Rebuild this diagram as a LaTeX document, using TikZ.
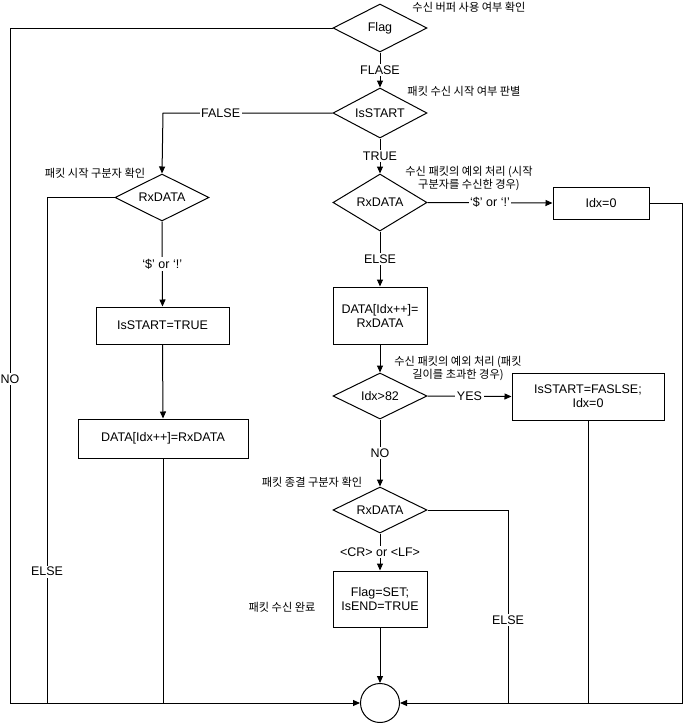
\documentclass[tikz,border=0pt]{standalone}
\usepackage{fontspec}
\setmainfont{Liberation Sans}
\newfontfamily\kr{Noto Sans CJK KR}
\usetikzlibrary{shapes.geometric,arrows.meta}
\begin{document}
\begin{tikzpicture}[x=1pt,y=-1pt,line width=1pt,
  every node/.style={font=\fontsize{12.5}{14}\selectfont},
  dia/.style={draw,diamond,aspect=2,inner sep=0pt,minimum width=94pt,minimum height=#1},
  dia/.default=48pt,
  box/.style={draw,rectangle,inner sep=0pt,align=center},
  lbl/.style={fill=white,inner sep=1.5pt},
  note/.style={font=\kr\fontsize{11.2}{13}\selectfont,inner sep=0pt,align=center},
  arr/.style={-{Triangle[length=7pt,width=6pt]}}]
\useasboundingbox (0,0) rectangle (683,723);
% nodes
\node[dia=48pt] (flag) at (380,28) {Flag};
\node[dia=50pt] (isstart) at (380,113) {IsSTART};
\node[dia=57pt] (rxc) at (380,202.5) {RxDATA};
\node[dia=47pt] (rxl) at (162,197.5) {RxDATA};
\node[box,minimum width=96pt,minimum height=32pt] (idx0) at (601,203) {Idx=0};
\node[box,minimum width=94pt,minimum height=57pt] (data1) at (380,315.5) {DATA[Idx++]=\\RxDATA};
\node[box,minimum width=133pt,minimum height=37pt] (istrue) at (162.5,325.5) {IsSTART=TRUE};
\node[box,minimum width=170pt,minimum height=39pt] (data2) at (163,438.5) {DATA[Idx++]=RxDATA};
\node[dia=46pt] (idx82) at (380,396) {Idx>82};
\node[box,minimum width=152pt,minimum height=47pt] (fasle) at (588,396.5) {IsSTART=FASLSE;\\Idx=0};
\node[dia=46pt] (rxb) at (380,510) {RxDATA};
\node[box,minimum width=94pt,minimum height=56pt] (flagset) at (380,599) {Flag=SET;\\IsEND=TRUE};
\node[draw,circle,minimum size=39pt,inner sep=0pt] (end) at (380,703) {};
% coordinates
\coordinate (a1) at (10,28);
\coordinate (a2) at (10,703);
\coordinate (b1) at (163,113);
\coordinate (c1) at (47,197.5);
\coordinate (c2) at (47,703);
\coordinate (d2) at (163,703);
\coordinate (e1) at (682,203);
\coordinate (e2) at (682,703);
\coordinate (f2) at (588,703);
\coordinate (g1) at (508,510);
\coordinate (g2) at (508,703);
% connectors
\draw[arr] (flag.west) -- (a1) -- node[lbl,pos=0.52]{NO} (a2) -- (end.west);
\draw[arr] (flag.south) -- node[lbl]{FLASE} (isstart.north);
\draw[arr] (isstart.west) -- node[lbl,pos=0.66]{FALSE} (b1) -- (rxl.north);
\draw[arr] (isstart.south) -- node[lbl]{TRUE} (rxc.north);
\draw (rxl.west) -- (c1) -- node[lbl,pos=0.74]{ELSE} (c2);
\draw[arr] (rxl.south) -- node[lbl]{‘\$’ or ‘!’} (istrue.north);
\draw[arr] (istrue.south) -- (data2.north);
\draw (data2.south) -- (d2);
\draw[arr] (rxc.east) -- node[lbl,pos=0.5]{‘\$’ or ‘!’} (idx0.west);
\draw[arr] (idx0.east) -- (e1) -- (e2) -- (end.east);
\draw[arr] (rxc.south) -- node[lbl]{ELSE} (data1.north);
\draw[arr] (data1.south) -- (idx82.north);
\draw[arr] (idx82.east) -- node[lbl]{YES} (fasle.west);
\draw (fasle.south) -- (f2);
\draw[arr] (idx82.south) -- node[lbl]{NO} (rxb.north);
\draw (rxb.east) -- (g1) -- node[lbl,pos=0.57]{ELSE} (g2);
\draw[arr] (rxb.south) -- node[lbl]{<CR> or <LF>} (flagset.north);
\draw[arr] (flagset.south) -- (end.north);
% notes
\node[note] at (469,7) {수신 버퍼 사용 여부 확인};
\node[note] at (464,91) {패킷 수신 시작 여부 판별};
\node[note] at (95,173) {패킷 시작 구분자 확인};
\node[note] at (469,178) {수신 패킷의 예외 처리 (시작\\구분자를 수신한 경우)};
\node[note] at (458,368.5) {수신 패킷의 예외 처리 (패킷\\길이를 초과한 경우)};
\node[note] at (312,482) {패킷 종결 구분자 확인};
\node[note] at (282,607) {패킷 수신 완료};
\end{tikzpicture}
\end{document}
